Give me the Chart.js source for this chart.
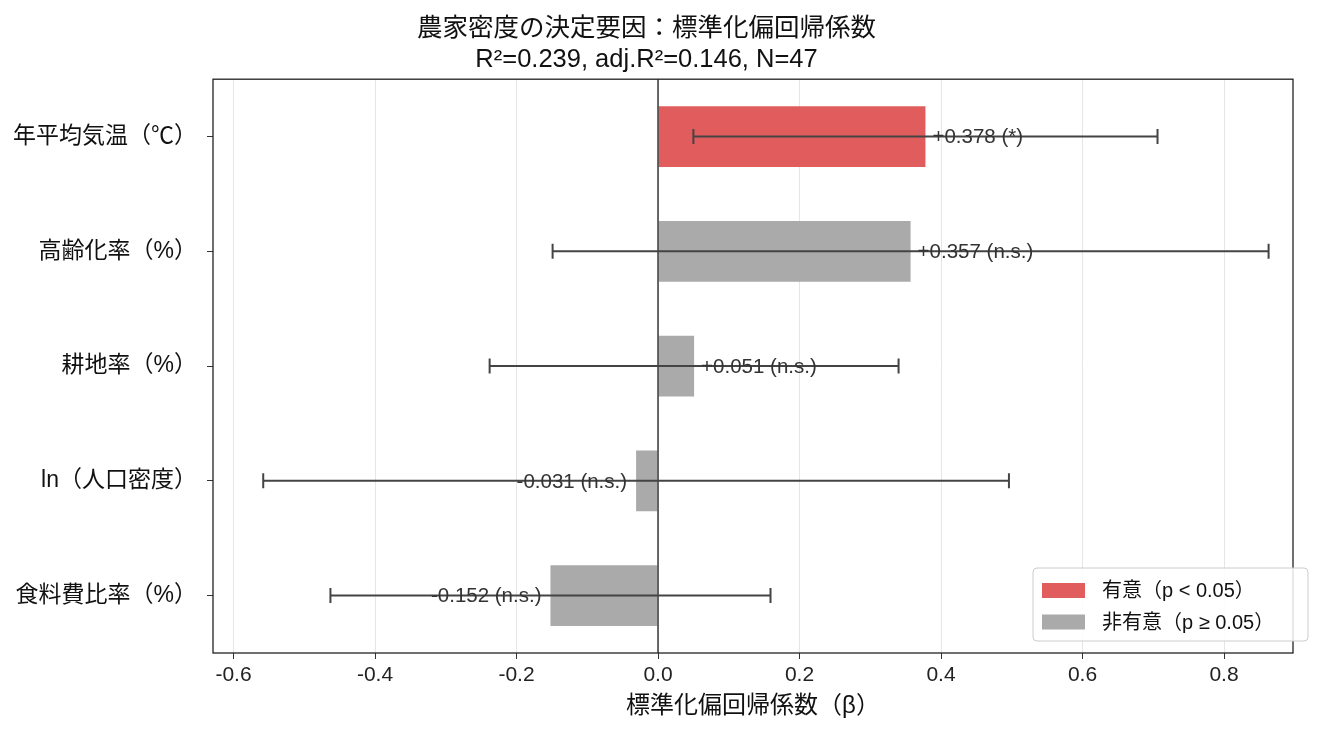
<!DOCTYPE html>
<html>
<head>
<meta charset="utf-8">
<script src="https://cdn.jsdelivr.net/npm/chart.js@4.4.1/dist/chart.umd.min.js"></script>
<style>
  html, body { margin: 0; padding: 0; background: #fff; }
  #wrap { width: 1335px; height: 735px; position: relative; }
</style>
</head>
<body>
<div id="wrap"><canvas id="chart"></canvas></div>
<script>
'use strict';

var FONT = '"Liberation Sans", "Noto Sans CJK JP", sans-serif';

// data
var variables = ['年平均気温（℃）', '高齢化率（%）', '耕地率（%）', 'ln（人口密度）', '食料費比率（%）'];
var betas = [0.378, 0.357, 0.051, -0.031, -0.152];
var ciLow = [0.050, -0.149, -0.238, -0.558, -0.463];
var ciHigh = [0.706, 0.863, 0.340, 0.496, 0.159];
var significance = ['*', 'n.s.', 'n.s.', 'n.s.', 'n.s.'];
var xTicks = [-0.6, -0.4, -0.2, 0.0, 0.2, 0.4, 0.6, 0.8];
var legendLabels = ['有意（p < 0.05）', '非有意（p ≥ 0.05）'];

var sigColor = '#e05c5d';
var nsColor = '#aaaaaa';
var barColors = [];
for (var i = 0; i < significance.length; i++) {
  barColors.push(significance[i] === 'n.s.' ? nsColor : sigColor);
}

// error bars, value labels, zero line, frame, legend
var extras = {
  id: 'extras',
  afterDatasetsDraw: function(chart) {
    var ctx = chart.ctx;
    var xs = chart.scales.x;
    var ys = chart.scales.y;
    var area = chart.chartArea;

    ctx.save();
    // zero line
    ctx.strokeStyle = '#444';
    ctx.lineWidth = 1.6;
    ctx.beginPath();
    ctx.moveTo(xs.getPixelForValue(0), area.top);
    ctx.lineTo(xs.getPixelForValue(0), area.bottom);
    ctx.stroke();

    for (var i = 0; i < betas.length; i++) {
      var y = ys.getPixelForValue(i);
      var x1 = xs.getPixelForValue(ciLow[i]);
      var x2 = xs.getPixelForValue(ciHigh[i]);
      ctx.strokeStyle = '#444';
      ctx.lineWidth = 2;
      ctx.beginPath();
      ctx.moveTo(x1, y); ctx.lineTo(x2, y);
      ctx.moveTo(x1, y - 7.5); ctx.lineTo(x1, y + 7.5);
      ctx.moveTo(x2, y - 7.5); ctx.lineTo(x2, y + 7.5);
      ctx.stroke();

      var b = betas[i];
      var txt = (b >= 0 ? '+' : '') + b.toFixed(3) + ' (' + significance[i] + ')';
      ctx.font = '20.5px ' + FONT;
      ctx.fillStyle = '#333';
      ctx.textBaseline = 'middle';
      if (b >= 0) {
        ctx.textAlign = 'left';
        ctx.fillText(txt, xs.getPixelForValue(b) + 7, y + 1);
      } else {
        ctx.textAlign = 'right';
        ctx.fillText(txt, xs.getPixelForValue(b) - 9, y + 1);
      }
    }

    // frame
    ctx.strokeStyle = '#222';
    ctx.lineWidth = 1.3;
    ctx.strokeRect(area.left, area.top, area.right - area.left, area.bottom - area.top);

    // legend, lower right inside the plot
    var lx = area.right - 260, ly = area.bottom - 85, lw = 275, lh = 73;
    ctx.fillStyle = 'rgba(255,255,255,0.85)';
    ctx.strokeStyle = '#cccccc';
    ctx.lineWidth = 1;
    ctx.beginPath();
    ctx.roundRect(lx, ly, lw, lh, 4);
    ctx.fill();
    ctx.stroke();
    var colors = [sigColor, nsColor];
    ctx.font = '20px ' + FONT;
    ctx.textAlign = 'left';
    ctx.textBaseline = 'middle';
    for (var k = 0; k < legendLabels.length; k++) {
      var cy = ly + 22.5 + k * 31.5;
      ctx.fillStyle = colors[k];
      ctx.fillRect(lx + 9, cy - 7.5, 43, 15);
      ctx.fillStyle = '#111';
      ctx.fillText(legendLabels[k], lx + 69, cy + 1);
    }
    ctx.restore();
  }
};

new Chart(document.getElementById('chart'), {
  type: 'bar',
  data: {
    labels: variables,
    datasets: [{
      data: betas,
      backgroundColor: barColors,
      borderWidth: 0,
      barPercentage: 0.53,
      categoryPercentage: 1.0
    }]
  },
  options: {
    indexAxis: 'y',
    responsive: true,
    maintainAspectRatio: false,
    animation: false,
    layout: { padding: { left: 0, right: 42, top: 0, bottom: 0 } },
    plugins: {
      legend: { display: false },
      tooltip: { enabled: false },
      title: {
        display: true,
        text: ['農家密度の決定要因：標準化偏回帰係数', 'R²=0.239, adj.R²=0.146, N=47'],
        color: '#111',
        font: { family: FONT, size: 25.5, weight: 'normal', lineHeight: 1.2 },
        padding: { top: 14, bottom: 4 }
      }
    },
    scales: {
      x: {
        type: 'linear',
        min: -0.629,
        max: 0.8975,
        afterBuildTicks: function(scale) {
          scale.ticks = xTicks.map(function(v) { return { value: v }; });
        },
        afterFit: function(scale) { scale.height = 82; },
        ticks: {
          color: '#222',
          font: { family: FONT, size: 21 },
          padding: 4,
          callback: function(v) { return Number(v).toFixed(1); }
        },
        grid: { color: '#e6e6e6', lineWidth: 1, tickLength: 6, tickColor: '#333' },
        border: { display: false },
        title: {
          display: true,
          text: '標準化偏回帰係数（β）',
          color: '#111',
          font: { family: FONT, size: 24 },
          padding: { top: 0, bottom: 14 }
        }
      },
      y: {
        afterFit: function(scale) { scale.width = 213; },
        ticks: {
          color: '#111',
          font: { family: FONT, size: 23 },
          padding: 10
        },
        grid: { offset: false, drawOnChartArea: false, tickLength: 6, tickColor: '#333' },
        border: { display: false }
      }
    }
  },
  plugins: [extras]
});
</script>
</body>
</html>
